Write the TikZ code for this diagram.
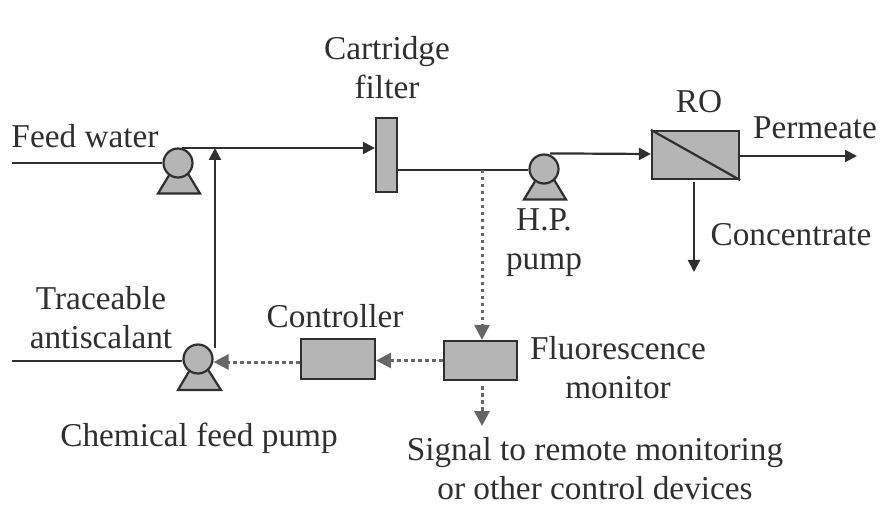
\documentclass[tikz,border=0pt]{standalone}
\usepackage{fontspec}
\setmainfont{Liberation Serif}
\usetikzlibrary{arrows.meta}
\definecolor{linegray}{HTML}{2F2F2F}
\definecolor{unitgray}{HTML}{B5B5B5}
\definecolor{signalgray}{HTML}{666666}
\tikzset{
	unit/.style={draw=linegray, fill=unitgray, line width=2.2pt, inner sep=0pt},
	pipe/.style={draw=linegray, line width=2.2pt},
	flow/.style={pipe, -{Triangle[length=12pt,width=12pt]}},
	signal/.style={draw=signalgray, line width=3pt, dash pattern=on 3.5pt off 3.5pt, -{Triangle[length=15pt,width=15pt]}},
	label/.style={text=linegray, align=center, font=\fontsize{33.3}{39}\selectfont, inner sep=0pt},
}
\begin{document}
\begin{tikzpicture}[x=1pt, y=-1pt]
	\useasboundingbox (0,0) rectangle (891,518);
	% pump bases
	\draw[unit] (158,193.5) -- (171,172) -- (187,172) -- (200,193.5) -- cycle;
	\draw[unit] (524,199.5) -- (537,178) -- (553,178) -- (566,199.5) -- cycle;
	\draw[unit] (178,390) -- (191,368) -- (207,368) -- (221,390) -- cycle;
	% units
	\node[unit, circle, minimum size=29pt] (feedpump) at (178,163) {};
	\node[unit, circle, minimum size=29pt] (hppump) at (544,169) {};
	\node[unit, circle, minimum size=29pt] (chempump) at (198,359) {};
	\node[unit, minimum width=21pt, minimum height=74pt] (filter) at (386.5,155) {};
	\node[unit, minimum width=87pt, minimum height=48pt] (ro) at (695.5,155) {};
	\node[unit, minimum width=74pt, minimum height=40pt] (controller) at (338,359) {};
	\node[unit, minimum width=73pt, minimum height=39pt] (monitor) at (480.5,360.5) {};
	\draw[pipe] (ro.north west) -- (ro.south east);
	% free ends
	\coordinate (feedin) at (12,163);
	\coordinate (chemin) at (12,361);
	\coordinate (permeate) at (857,156);
	\coordinate (concentrate) at (694,272);
	\coordinate (remote) at (482,426);
	\coordinate (junction) at (215,148);
	\coordinate (tap) at (482,170);
	% pipes
	\draw[pipe] (feedin) -- (feedpump.west);
	\draw[pipe] (chemin) -- (chempump.west |- chemin);
	\draw[flow] ([xshift=4pt]feedpump.north |- junction) -- (filter.west |- junction);
	\draw[flow] (chempump.north east -| junction) -- (junction);
	\draw[pipe] (filter.east |- tap) -- (hppump.west |- tap);
	\draw[flow] (hppump.north) ++(6,0) -- (ro.west |- {0,154});
	\draw[flow] (ro.east |- permeate) -- (permeate);
	\draw[flow] (ro.south -| concentrate) ++(0,2) -- (concentrate);
	% signals
	\draw[signal] (tap) -- (monitor.north -| tap);
	\draw[signal] (monitor.west) -- (controller.east |- monitor.west);
	\draw[signal] (controller.west |- {0,362}) -- (chempump.east |- {0,362});
	\draw[signal] (monitor.south -| remote) ++(0,5) -- (remote);
	% labels
	\node[label] (l1) at (387,67.5) {Cartridge\\filter};
	\node[label] (l2) at (699,102) {RO};
	\node[label] (l3) at (815,128) {Permeate};
	\node[label] (l4) at (85,136) {Feed water};
	\node[label] (l5) at (791,235) {Concentrate};
	\node[label] (l6) at (544,243) {H.P.\\pump};
	\node[label] (l7) at (101,318) {Traceable\\antiscalant};
	\node[label] (l8) at (335,316) {Controller};
	\node[label] (l9) at (618,368) {Fluorescence\\monitor};
	\node[label] (l10) at (199,438) {Chemical feed pump};
	\node[label] (l11) at (595,468.5) {Signal to remote monitoring\\or other control devices};
\end{tikzpicture}
\end{document}
